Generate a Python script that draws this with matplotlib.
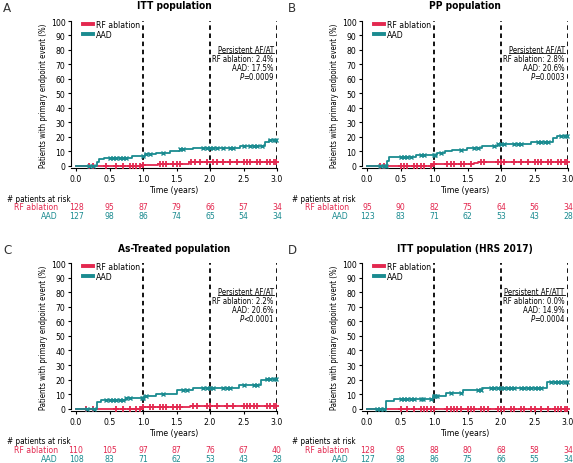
import matplotlib
matplotlib.use("Agg")
import matplotlib.pyplot as plt
import numpy as np
from matplotlib import font_manager as fm

# look for a condensed / narrow sans face
cond = [f for f in fm.fontManager.ttflist
        if ('narrow' in f.fname.lower() or 'condensed' in f.fname.lower()
            or 'narrow' in f.name.lower() or 'condensed' in f.name.lower())
        and 'sans' in f.name.lower() and 'mono' not in f.name.lower()]
reg = [f for f in cond if f.style == 'normal' and f.weight in (400, 'normal', 'regular')]
reg.sort(key=lambda f: (0 if 'liberation' in f.name.lower() else 1))
if reg:
    plt.rcParams['font.family'] = [reg[0].name]
    plt.rcParams['font.stretch'] = reg[0].stretch
else:
    names = {f.name for f in fm.fontManager.ttflist}
    plt.rcParams['font.family'] = [f for f in ["Liberation Sans", "DejaVu Sans"] if f in names]

RED = '#e3284f'
TEAL = '#1a8b90'

# ---------------- data ----------------
panel_letters = ["A", "B", "C", "D"]
titles = ["ITT population", "PP population", "As-Treated population", "ITT population (HRS 2017)"]
box_head = ["Persistent AF/AT", "Persistent AF/AT", "Persistent AF/AT", "Persistent AF/ATT"]
rf_pct = ["RF ablation: 2.4%", "RF ablation: 2.8%", "RF ablation: 2.2%", "RF ablation: 0.0%"]
aad_pct = ["AAD: 17.5%", "AAD: 20.6%", "AAD: 20.6%", "AAD: 14.9%"]
p_vals = ["=0.0009", "=0.0003", "<0.0001", "=0.0004"]

risk_times = [0.0, 0.5, 1.0, 1.5, 2.0, 2.5, 3.0]
risk_rf = [[128, 95, 87, 79, 66, 57, 34],
           [95, 90, 82, 75, 64, 56, 34],
           [110, 105, 97, 87, 76, 67, 40],
           [128, 95, 88, 80, 68, 58, 34]]
risk_aad = [[127, 98, 86, 74, 65, 54, 34],
            [123, 83, 71, 62, 53, 43, 28],
            [108, 83, 71, 62, 53, 43, 28],
            [127, 98, 86, 75, 66, 55, 34]]

# step curves (time of step, value after step)
aad_t = [[0, 0.31, 0.34, 0.42, 0.83, 1.03, 1.2, 1.4, 1.55, 1.75, 2.45, 2.82, 2.88],
         [0, 0.30, 0.33, 0.73, 1.05, 1.17, 1.27, 1.49, 1.72, 1.95, 2.45, 2.77, 2.84],
         [0, 0.31, 0.38, 0.74, 1.02, 1.2, 1.5, 1.74, 2.44, 2.76, 2.83],
         [0, 0.29, 0.40, 0.98, 1.18, 1.43, 1.71, 2.68]]
aad_v = [[0, 2.5, 4.5, 5.7, 6.6, 7.9, 9.0, 10.0, 11.4, 12.4, 13.8, 16.5, 17.5],
         [0, 3.0, 6.0, 7.8, 9.0, 10.0, 11.0, 12.5, 13.6, 14.8, 16.2, 19.0, 20.6],
         [0, 4.6, 6.2, 7.4, 8.7, 10.3, 12.6, 14.3, 16.6, 19.5, 20.6],
         [0, 5.2, 7.0, 8.8, 11.0, 12.6, 14.0, 18.2]]
rf_t = [[0, 0.99, 1.22, 1.68],
        [0, 0.99, 1.60, 1.66],
        [0, 0.99, 1.70],
        [0]]
rf_v = [[0, 0.8, 1.6, 2.4],
        [0, 1.0, 2.0, 2.8],
        [0, 1.0, 2.2],
        [0]]

# censoring marks (times)
aad_cens = [[0.2, 0.25, 0.5, 0.55, 0.6, 0.65, 0.7, 0.75, 1.0, 1.05, 1.1, 1.3, 1.55, 1.6, 1.9, 1.95, 2.0, 2.05,
             2.1, 2.2, 2.3, 2.35, 2.5, 2.6, 2.65, 2.7, 2.78, 2.9, 2.95, 2.98],
            [0.2, 0.25, 0.28, 0.5, 0.55, 0.6, 0.65, 0.8, 0.85, 1.0, 1.02, 1.1, 1.4, 1.6, 1.65, 1.9, 1.95, 2.0,
             2.05, 2.2, 2.25, 2.3, 2.55, 2.6, 2.65, 2.7, 2.9, 2.95, 2.98],
            [0.17, 0.27, 0.45, 0.5, 0.55, 0.6, 0.65, 0.7, 0.75, 0.8, 0.98, 1.0, 1.05, 1.3, 1.6, 1.65, 1.9, 1.95,
             2.0, 2.05, 2.2, 2.25, 2.3, 2.5, 2.65, 2.7, 2.85, 2.9, 2.95, 2.98],
            [0.15, 0.2, 0.25, 0.5, 0.55, 0.6, 0.65, 0.7, 0.8, 0.83, 0.95, 1.0, 1.02, 1.05, 1.25, 1.4, 1.65, 1.7,
             1.85, 1.9, 1.95, 2.0, 2.05, 2.1, 2.15, 2.2, 2.3, 2.35, 2.4, 2.45, 2.5, 2.55, 2.6, 2.75, 2.8,
             2.85, 2.9, 2.95, 2.98]]
rf_cens = [[0.2, 0.25, 0.45, 0.6, 0.7, 0.8, 0.85, 0.9, 0.95, 1.0, 1.25, 1.3, 1.35, 1.45, 1.5, 1.55, 1.72,
            1.78, 1.85, 1.95, 2.05, 2.1, 2.2, 2.3, 2.4, 2.5, 2.55, 2.6, 2.7, 2.75, 2.85, 2.9, 2.95, 2.98],
           [0.2, 0.25, 0.5, 0.55, 0.6, 0.7, 0.75, 0.8, 0.85, 0.95, 1.0, 1.2, 1.25, 1.3, 1.4, 1.45, 1.55,
            1.7, 1.75, 1.95, 2.0, 2.05, 2.2, 2.3, 2.4, 2.5, 2.55, 2.6, 2.7, 2.75, 2.85, 2.9, 2.95, 2.98],
           [0.15, 0.25, 0.6, 0.7, 0.8, 0.9, 0.95, 1.0, 1.1, 1.15, 1.25, 1.3, 1.35, 1.45, 1.5, 1.55, 1.75,
            1.8, 1.95, 2.0, 2.1, 2.25, 2.35, 2.5, 2.55, 2.6, 2.65, 2.7, 2.85, 2.9, 2.95, 2.98],
           [0.5, 0.6, 0.7, 0.8, 0.85, 0.9, 0.95, 1.0, 1.2, 1.25, 1.3, 1.35, 1.4, 1.5, 1.55, 1.6, 1.7, 1.75,
            1.8, 1.95, 2.0, 2.05, 2.15, 2.2, 2.3, 2.35, 2.45, 2.5, 2.6, 2.7, 2.8, 2.85, 2.9, 2.95, 2.98]]

# ---------------- figure ----------------
W, H = 573, 464
fig = plt.figure(figsize=(W / 100, H / 100), dpi=100)

FS = 6.2
FSB = 5.6   # annotation box


def px(x, y):
    return x / W, 1 - y / H


boxes = [(71, 22, 277, 169), (362, 22, 568, 169), (71, 264, 277, 412), (362, 264, 568, 412)]
title_y = [6, 6, 249, 249]
letter_pos = [(3, 9), (288, 9), (3, 251), (288, 251)]
risk_y = [(199, 208, 217), (199, 208, 217), (442, 451, 460), (442, 451, 460)]
risk_x = [(7, 58), (292, 349), (7, 58), (292, 349)]


def step_lookup(ts, vs, t):
    i = np.searchsorted(ts, t, side='right') - 1
    return vs[max(i, 0)]


for k in range(4):
    l, t, r, b = boxes[k]
    x0, y1 = px(l, b)
    ax = fig.add_axes([x0, y1, (r - l) / W, (b - t) / H])
    ax.set_xlim(-0.075, 3.0)
    ax.set_ylim(-1.5, 100)
    for s in ['top', 'right']:
        ax.spines[s].set_visible(False)
    ax.spines['left'].set_bounds(0, 100)
    ax.spines['bottom'].set_bounds(-0.075, 3.0)
    ax.set_yticks(range(0, 101, 10))
    ax.set_xticks(risk_times)
    ax.set_xticklabels([f"{v:.1f}" for v in risk_times])
    ax.tick_params(labelsize=FS, length=2.5, width=0.8, pad=1.5)
    ax.set_xlabel("Time (years)", fontsize=FS, labelpad=1.5)
    ax.set_ylabel("Patients with primary endpoint event (%)", fontsize=5.6, labelpad=2)

    for xv in [1, 2, 3]:
        ax.axvline(xv, color='black', lw=1.3, ls=(0, (2.5, 2.0)), zorder=1)

    ta = np.array(aad_t[k] + [3.0]); va = np.array(aad_v[k] + [aad_v[k][-1]])
    tr = np.array(rf_t[k] + [3.0]); vr = np.array(rf_v[k] + [rf_v[k][-1]])
    ax.step(tr, vr, where='post', color=RED, lw=1.3, zorder=3, label="RF ablation")
    ax.step(ta, va, where='post', color=TEAL, lw=1.3, zorder=4, label="AAD")
    cy_r = [step_lookup(np.array(rf_t[k]), rf_v[k], c) for c in rf_cens[k]]
    cy_a = [step_lookup(np.array(aad_t[k]), aad_v[k], c) for c in aad_cens[k]]
    ax.plot(rf_cens[k], cy_r, ls='none', marker='+', ms=4.5, mew=1.3, color=RED, zorder=3, clip_on=False)
    ax.plot(aad_cens[k], cy_a, ls='none', marker='x', ms=3, mew=1.0, color=TEAL, zorder=4, clip_on=False)

    leg = ax.legend(loc='upper left', bbox_to_anchor=(0.04, 1.03), frameon=False, fontsize=FS,
                    handlelength=1.15, handletextpad=0.4, labelspacing=0.1, borderaxespad=0)
    for h in leg.get_lines():
        h.set_linewidth(2.8)

    tx = 2.95
    th = ax.text(tx, 80.5, box_head[k], ha='right', va='center', fontsize=FSB, zorder=6)
    ax.text(tx, 74.3, rf_pct[k], ha='right', va='center', fontsize=FSB, zorder=6)
    ax.text(tx, 68.1, aad_pct[k], ha='right', va='center', fontsize=FSB, zorder=6)
    tp = ax.text(tx, 61.7, p_vals[k], ha='right', va='center', fontsize=FSB, zorder=6)
    fig.canvas.draw()
    bbp = tp.get_window_extent()
    ax.annotate("P", xy=(bbp.x0 + 0.5, 0.5), xycoords=('figure pixels', tp),
                ha='right', va='center', fontsize=FSB, style='italic', zorder=6)
    bb = th.get_window_extent().transformed(fig.transFigure.inverted())
    fig.add_artist(plt.Line2D([bb.x0, bb.x1], [bb.y0 + 0.002, bb.y0 + 0.002], color='black', lw=0.6,
                              transform=fig.transFigure))

    cx = (l + r) / 2 / W
    fig.text(cx, 1 - title_y[k] / H, titles[k], ha='center', va='center', fontsize=7.3,
             fontweight='bold')
    lx, ly = px(*letter_pos[k])
    fig.text(lx, ly, panel_letters[k], ha='left', va='center', fontsize=9.5, color='#333333',
             family=['DejaVu Sans'], fontweight='light')

    ry0, ry1, ry2 = risk_y[k]
    hx, lab_x = risk_x[k]
    fig.text(hx / W, 1 - ry0 / H, "# patients at risk", ha='left', va='center', fontsize=FS - 0.3)
    fig.text(lab_x / W, 1 - ry1 / H, "RF ablation", ha='right', va='center', fontsize=FS, color=RED)
    fig.text(lab_x / W, 1 - ry2 / H, "AAD", ha='right', va='center', fontsize=FS, color=TEAL)
    trans = matplotlib.transforms.blended_transform_factory(ax.transData, fig.transFigure)
    for xv, a, c in zip(risk_times, risk_rf[k], risk_aad[k]):
        ax.text(xv, 1 - ry1 / H, str(a), transform=trans, ha='center', va='center', fontsize=FS,
                color=RED, clip_on=False)
        ax.text(xv, 1 - ry2 / H, str(c), transform=trans, ha='center', va='center', fontsize=FS,
                color=TEAL, clip_on=False)

fig.savefig("out.png", dpi=100)
